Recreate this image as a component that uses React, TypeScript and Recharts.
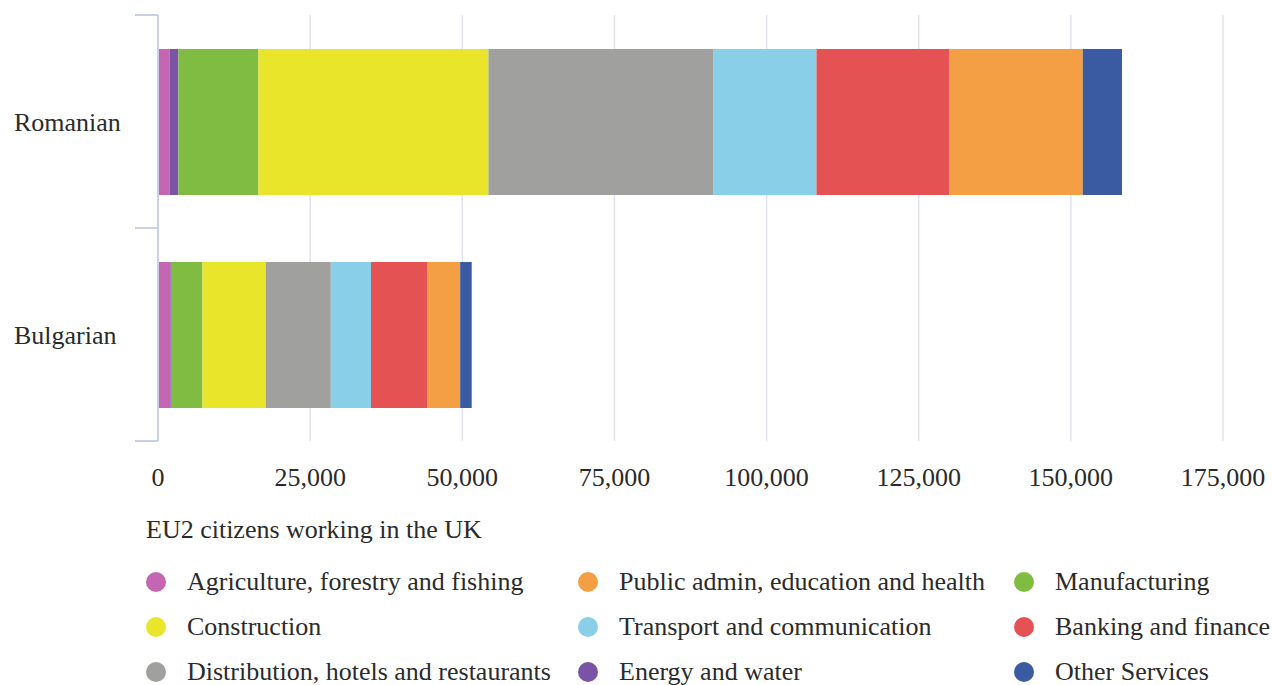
import React from "react";
import { BarChart, Bar, XAxis, YAxis, CartesianGrid } from "recharts";

const categories = ["Romanian", "Bulgarian"];
const agriculture = [1950, 2050];
const energy = [1400, 200];
const manufacturing = [13150, 5050];
const construction = [37800, 10400];
const distribution = [37000, 10700];
const transport = [16900, 6600];
const banking = [21850, 9300];
const publicAdmin = [21900, 5350];
const otherServices = [6450, 1900];
const xTicks = [0, 25000, 50000, 75000, 100000, 125000, 150000, 175000];

const stackKeys = ["agriculture", "energy", "manufacturing", "construction", "distribution", "transport", "banking", "publicAdmin", "otherServices"];
const seriesNames: Record<string, string> = {
  agriculture: "Agriculture, forestry and fishing",
  energy: "Energy and water",
  manufacturing: "Manufacturing",
  construction: "Construction",
  distribution: "Distribution, hotels and restaurants",
  transport: "Transport and communication",
  banking: "Banking and finance",
  publicAdmin: "Public admin, education and health",
  otherServices: "Other Services",
};
const colors: Record<string, string> = {
  agriculture: "#c566b2",
  energy: "#7a52a6",
  manufacturing: "#80bc42",
  construction: "#e8e52b",
  distribution: "#a0a09e",
  transport: "#8acfe8",
  banking: "#e55253",
  publicAdmin: "#f59f45",
  otherServices: "#3a5ba1",
};
const legendOrder = [
  "agriculture", "publicAdmin", "manufacturing",
  "construction", "transport", "banking",
  "distribution", "energy", "otherServices",
];

const data = categories.map((name, i) => ({
  name,
  agriculture: agriculture[i],
  energy: energy[i],
  manufacturing: manufacturing[i],
  construction: construction[i],
  distribution: distribution[i],
  transport: transport[i],
  banking: banking[i],
  publicAdmin: publicAdmin[i],
  otherServices: otherServices[i],
}));

const FONT = "'Liberation Serif', 'Times New Roman', serif";
const TEXT = "#2b2b2b";
const AXIS = "#c9cfe4";
const FS = 26;
const W = 1272;
const H = 685;
const TOP = 15;
const PLOT_BOTTOM = 441;
const BAND = (PLOT_BOTTOM - TOP) / categories.length;

const YTick = (props: any) => {
  const { x, y, payload } = props;
  const half = BAND / 2;
  return (
    <g>
      <text x={14} y={y} dy="0.35em" textAnchor="start" fontFamily={FONT} fontSize={FS} fill={TEXT}>
        {payload.value}
      </text>
      <line x1={135} x2={x + 8} y1={y - half} y2={y - half} stroke={AXIS} strokeWidth={2} />
      <line x1={135} x2={x + 8} y1={y + half} y2={y + half} stroke={AXIS} strokeWidth={2} />
    </g>
  );
};

const XTick = (props: any) => {
  const { x, payload } = props;
  return (
    <text x={x} y={477} dy="0.35em" textAnchor="middle" fontFamily={FONT} fontSize={FS} fill={TEXT}>
      {Number(payload.value).toLocaleString("en-US")}
    </text>
  );
};

const colX = [156, 588, 1024];
const rowY = [582, 627, 672];

export default function App() {
  return (
    <div style={{ position: "absolute", left: 0, top: 0, width: W, height: H, background: "#fff" }}>
      <BarChart
        width={W}
        height={H}
        data={data}
        layout="vertical"
        margin={{ top: TOP, right: 49, bottom: 214, left: 0 }}
        barSize={146}
      >
        <CartesianGrid horizontal={false} stroke="#e0e3ec" strokeWidth={1.5} />
        <XAxis
          type="number"
          domain={[0, 175000]}
          ticks={xTicks}
          axisLine={false}
          tickLine={false}
          height={30}
          tick={<XTick />}
          interval={0}
        />
        <YAxis
          type="category"
          dataKey="name"
          width={158}
          axisLine={{ stroke: AXIS, strokeWidth: 2 }}
          tickLine={false}
          tick={<YTick />}
        />
        {stackKeys.map((k) => (
          <Bar key={k} dataKey={k} name={seriesNames[k]} stackId="a" fill={colors[k]} isAnimationActive={false} />
        ))}
      </BarChart>
      <div
        style={{
          position: "absolute",
          left: 146,
          top: 530,
          transform: "translateY(-50%)",
          fontFamily: FONT,
          fontSize: FS,
          color: TEXT,
          whiteSpace: "nowrap",
        }}
      >
        EU2 citizens working in the UK
      </div>
      {legendOrder.map((k, i) => {
        const cx = colX[i % 3];
        const cy = rowY[Math.floor(i / 3)];
        return (
          <div key={k}>
            <div
              style={{
                position: "absolute",
                left: cx - 10,
                top: cy - 10,
                width: 20,
                height: 20,
                borderRadius: "50%",
                background: colors[k],
              }}
            />
            <div
              style={{
                position: "absolute",
                left: cx + 31,
                top: cy,
                transform: "translateY(-50%)",
                fontFamily: FONT,
                fontSize: FS,
                color: TEXT,
                whiteSpace: "nowrap",
                lineHeight: 1,
              }}
            >
              {seriesNames[k]}
            </div>
          </div>
        );
      })}
    </div>
  );
}
